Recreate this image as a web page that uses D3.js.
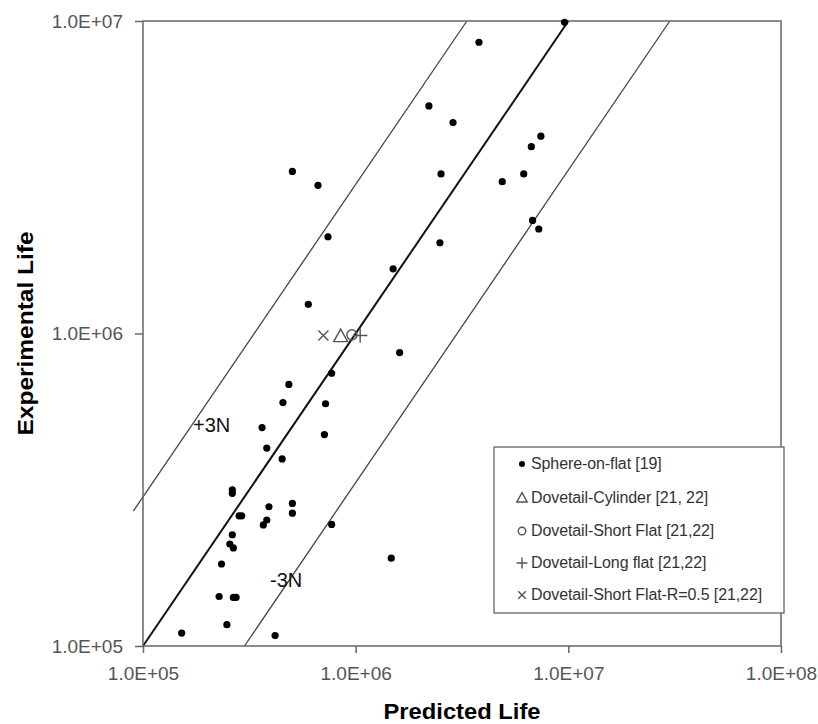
<!DOCTYPE html>
<html>
<head>
<meta charset="utf-8">
<script src="https://cdn.jsdelivr.net/npm/d3@7"></script>
<style>
  html, body { margin: 0; padding: 0; background: #fff; }
  svg { display: block; }
  text { font-family: "Liberation Sans", Arial, sans-serif; }
</style>
</head>
<body>
<svg id="chart" width="818" height="724"></svg>
<script>
// ---- data ----
const xTicks = [1e5, 1e6, 1e7, 1e8];
const xTickLabels = ["1.0E+05", "1.0E+06", "1.0E+07", "1.0E+08"];
const yTicks = [1e5, 1e6, 1e7];
const yTickLabels = ["1.0E+05", "1.0E+06", "1.0E+07"];

// Sphere-on-flat [19] : [predicted, experimental]
const spherePredicted = [
  9.6e6, 3.80e6, 2.21e6, 2.87e6, 7.43e6, 6.70e6, 5.04e5, 6.65e5, 2.52e6, 4.89e6,
  6.17e6, 6.79e6, 7.26e6, 7.41e5, 2.49e6, 1.50e6, 5.99e5, 1.61e6, 7.71e5, 4.85e5,
  4.55e5, 7.22e5, 3.63e5, 7.13e5, 3.82e5, 4.51e5, 2.63e5, 2.63e5, 2.83e5, 2.91e5,
  3.91e5, 5.04e5, 5.04e5, 3.82e5, 3.68e5, 7.71e5, 2.63e5, 2.56e5, 2.66e5, 2.34e5,
  1.47e6, 2.28e5, 2.66e5, 2.74e5, 2.48e5, 1.52e5, 4.18e5
];
const sphereExperimental = [
  9.9e6, 8.55e6, 5.35e6, 4.73e6, 4.28e6, 3.96e6, 3.30e6, 2.98e6, 3.24e6, 3.06e6,
  3.24e6, 2.30e6, 2.16e6, 2.04e6, 1.95e6, 1.61e6, 1.24e6, 8.69e5, 7.46e5, 6.87e5,
  6.01e5, 5.96e5, 5.00e5, 4.75e5, 4.30e5, 3.97e5, 3.16e5, 3.08e5, 2.61e5, 2.61e5,
  2.79e5, 2.86e5, 2.66e5, 2.53e5, 2.44e5, 2.45e5, 2.27e5, 2.12e5, 2.06e5, 1.83e5,
  1.91e5, 1.44e5, 1.43e5, 1.43e5, 1.17e5, 1.10e5, 1.08e5
];

// Other series (one point each)
const otherSeriesNames = ["Dovetail-Cylinder [21, 22]", "Dovetail-Short Flat [21,22]", "Dovetail-Long flat [21,22]", "Dovetail-Short Flat-R=0.5 [21,22]"];
const otherSeriesSymbols = ["triangle", "circle", "plus", "cross"];
const otherPredicted = [8.5e5, 9.6e5, 1.05e6, 7.05e5];
const otherExperimental = [9.8e5, 9.9e5, 9.85e5, 9.85e5];

const legendNames = ["Sphere-on-flat [19]"].concat(otherSeriesNames);
const legendSymbols = ["dot"].concat(otherSeriesSymbols);

// reference lines: factor of experimental/predicted
const bandFactors = [1, 3, 1 / 3];
const bandLabels = ["+3N", "-3N"];

// ---- drawing ----
const svg = d3.select("#chart");
const L = 143, R = 781, T = 21, B = 646;
const x = d3.scaleLog().domain([1e5, 1e8]).range([L, R]);
const y = d3.scaleLog().domain([1e5, 1e7]).range([B, T]);

// reference lines
const line = d3.line().x(d => x(d[0])).y(d => y(d[1]));
// 1:1 line
svg.append("path")
  .attr("d", line([[1e5, 1e5], [1e7, 1e7]]))
  .attr("stroke", "#111").attr("stroke-width", 2).attr("fill", "none");
// +3N
svg.append("path")
  .attr("d", line([[9e4, 9e4 * bandFactors[1]], [1e7 / bandFactors[1], 1e7]]))
  .attr("stroke", "#444").attr("stroke-width", 1.3).attr("fill", "none");
// -3N
svg.append("path")
  .attr("d", line([[1e5 / bandFactors[2], 1e5], [1e7 / bandFactors[2], 1e7]]))
  .attr("stroke", "#444").attr("stroke-width", 1.3).attr("fill", "none");

// frame
svg.append("rect")
  .attr("x", L).attr("y", T).attr("width", R - L).attr("height", B - T)
  .attr("fill", "none").attr("stroke", "#666").attr("stroke-width", 1.5);

// axes
const xAxis = d3.axisBottom(x).tickValues(xTicks).tickSize(7).tickPadding(14)
  .tickFormat((d, i) => xTickLabels[i]);
const gx = svg.append("g").attr("transform", `translate(0,${B})`).call(xAxis);
const yAxis = d3.axisLeft(y).tickValues(yTicks).tickSize(8).tickPadding(12)
  .tickFormat((d, i) => yTickLabels[i]);
const gy = svg.append("g").attr("transform", `translate(${L},0)`).call(yAxis);
[gx, gy].forEach(g => {
  g.select(".domain").remove();
  g.selectAll(".tick line").attr("stroke", "#666").attr("stroke-width", 1.5);
  g.selectAll(".tick text").attr("fill", "#555")
    .style("font-family", "'Liberation Sans', Arial, sans-serif")
    .style("font-size", "19px");
});

// band labels
svg.append("text").attr("x", 193).attr("y", 432).text(bandLabels[0])
  .style("font-size", "20px").attr("fill", "#111");
svg.append("text").attr("x", 270).attr("y", 587).text(bandLabels[1])
  .style("font-size", "20px").attr("fill", "#111");

// symbol drawing helper
function drawSymbol(g, type, cx, cy, s) {
  const col = "#555";
  if (type === "dot") {
    g.append("circle").attr("cx", cx).attr("cy", cy).attr("r", s * 0.5).attr("fill", "#000");
  } else if (type === "triangle") {
    const h = s;
    g.append("path")
      .attr("d", `M${cx},${cy - h * 0.6}L${cx + h * 0.58},${cy + h * 0.45}L${cx - h * 0.58},${cy + h * 0.45}Z`)
      .attr("fill", "none").attr("stroke", col).attr("stroke-width", 1.4);
  } else if (type === "circle") {
    g.append("circle").attr("cx", cx).attr("cy", cy).attr("r", s * 0.42)
      .attr("fill", "none").attr("stroke", col).attr("stroke-width", 1.4);
  } else if (type === "plus") {
    const a = s * 0.6;
    g.append("path").attr("d", `M${cx - a},${cy}H${cx + a}M${cx},${cy - a}V${cy + a}`)
      .attr("stroke", col).attr("stroke-width", 1.4);
  } else if (type === "cross") {
    const a = s * 0.42;
    g.append("path").attr("d", `M${cx - a},${cy - a}L${cx + a},${cy + a}M${cx - a},${cy + a}L${cx + a},${cy - a}`)
      .attr("stroke", col).attr("stroke-width", 1.4);
  }
}

// sphere points
const gPts = svg.append("g");
gPts.selectAll("circle").data(d3.range(spherePredicted.length)).join("circle")
  .attr("cx", i => x(spherePredicted[i]))
  .attr("cy", i => y(sphereExperimental[i]))
  .attr("r", 3.6).attr("fill", "#000");

// other series points
const gOther = svg.append("g");
otherPredicted.forEach((p, i) => {
  drawSymbol(gOther, otherSeriesSymbols[i], x(p), y(otherExperimental[i]), 12);
});

// legend
const lg = svg.append("g");
lg.append("rect").attr("x", 494).attr("y", 447).attr("width", 290).attr("height", 166)
  .attr("fill", "#fff").attr("stroke", "#555").attr("stroke-width", 1.2);
const rowY = [463, 497, 530, 562, 594];
legendNames.forEach((name, i) => {
  drawSymbol(lg, legendSymbols[i], 522, rowY[i] + 1, legendSymbols[i] === "dot" ? 6 : 9);
  lg.append("text").attr("x", 531).attr("y", rowY[i] + 5.5).text(name)
    .style("font-size", "16px").attr("fill", "#333").style("letter-spacing", "-0.1px");
});

// axis titles
svg.append("text").attr("x", (L + R) / 2).attr("y", 719).attr("text-anchor", "middle")
  .text("Predicted Life").style("font-size", "22px").style("font-weight", "bold")
  .attr("textLength", 157).attr("lengthAdjust", "spacingAndGlyphs");
svg.append("text").attr("transform", `translate(33,${(T + B) / 2}) rotate(-90)`)
  .attr("text-anchor", "middle")
  .text("Experimental Life").style("font-size", "22px").style("font-weight", "bold")
  .attr("textLength", 204).attr("lengthAdjust", "spacingAndGlyphs");
</script>
</body>
</html>
